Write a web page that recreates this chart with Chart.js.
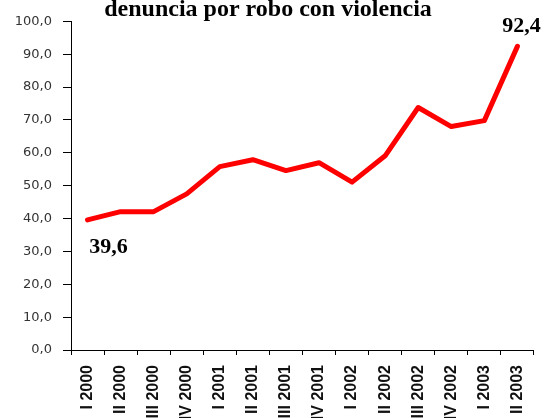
<!DOCTYPE html>
<html>
<head>
<meta charset="utf-8">
<script src="https://cdn.jsdelivr.net/npm/chart.js@4"></script>
<style>
  html, body { margin: 0; padding: 0; background: #fff; overflow: hidden; }
  #wrap { width: 547px; height: 418px; overflow: hidden; }
</style>
</head>
<body>
<div id="wrap"><canvas id="chart" width="547" height="440"></canvas></div>
<script>
// quarters shown on the x axis
const quarters = [
  "I 2000", "II 2000", "III 2000", "IV 2000",
  "I 2001", "II 2001", "III 2001", "IV 2001",
  "I 2002", "II 2002", "III 2002", "IV 2002",
  "I 2003", "II 2003"
];
// index per quarter
const robberyIndex = [39.6, 42.1, 42.1, 47.5, 55.8, 57.9, 54.6, 57.0, 51.1, 59.1, 73.8, 68.0, 69.8, 92.4];
// y axis ticks
const yTicks = [0, 10, 20, 30, 40, 50, 60, 70, 80, 90, 100];
// which points get a value label
const labelledPoints = [0, robberyIndex.length - 1];

const fmt = (v) => v.toFixed(1).replace(".", ",");

// writes the first and last values next to the line
const valueLabels = {
  id: "valueLabels",
  afterDatasetsDraw(chart) {
    const ctx = chart.ctx;
    const meta = chart.getDatasetMeta(0);
    ctx.save();
    ctx.fillStyle = "#000";
    ctx.font = "bold 22px 'Liberation Serif', 'Times New Roman', serif";
    ctx.textAlign = "center";
    ctx.textBaseline = "alphabetic";
    labelledPoints.forEach((i) => {
      const pt = meta.data[i];
      const txt = fmt(robberyIndex[i]);
      if (i === 0) {
        ctx.fillText(txt, pt.x + 21, pt.y + 33);
      } else {
        ctx.fillText(txt, pt.x + 4, pt.y - 14);
      }
    });
    ctx.restore();
  }
};

new Chart(document.getElementById("chart"), {
  type: "line",
  data: {
    labels: quarters,
    datasets: [{
      data: robberyIndex,
      borderColor: "#ff0000",
      borderWidth: 5,
      borderCapStyle: "round",
      borderJoinStyle: "round",
      pointRadius: 0,
      tension: 0,
      fill: false
    }]
  },
  options: {
    responsive: false,
    animation: false,
    layout: { padding: { left: 0, right: 11, top: 0, bottom: 0 } },
    plugins: {
      legend: { display: false },
      tooltip: { enabled: false },
      title: {
        display: true,
        text: "denuncia por robo con violencia",
        color: "#000",
        font: { family: "'Liberation Serif', 'Times New Roman', serif", size: 24, weight: "bold", lineHeight: 0.85 },
        padding: { top: 0, bottom: 1 }
      }
    },
    scales: {
      x: {
        offset: true,
        grid: { display: true, offset: true, drawOnChartArea: false, tickLength: 5, color: "#000" },
        border: { color: "#000", width: 1 },
        ticks: {
          minRotation: 90,
          maxRotation: 90,
          autoSkip: false,
          padding: 10,
          color: "#111",
          font: { family: "'Liberation Sans', Arial, sans-serif", size: 16, weight: "bold" }
        },
        afterFit: (scale) => { scale.height = 90; }
      },
      y: {
        min: 0,
        max: 100,
        afterBuildTicks: (scale) => { scale.ticks = yTicks.map((v) => ({ value: v })); },
        grid: { display: true, drawOnChartArea: false, tickLength: 8, color: "#000" },
        border: { color: "#000", width: 1 },
        ticks: {
          padding: 11,
          color: "#333",
          font: { family: "'DejaVu Sans', sans-serif", size: 13 },
          callback: (v) => fmt(v)
        },
        afterFit: (scale) => { scale.width = 71; }
      }
    }
  },
  plugins: [valueLabels]
});
</script>
</body>
</html>
